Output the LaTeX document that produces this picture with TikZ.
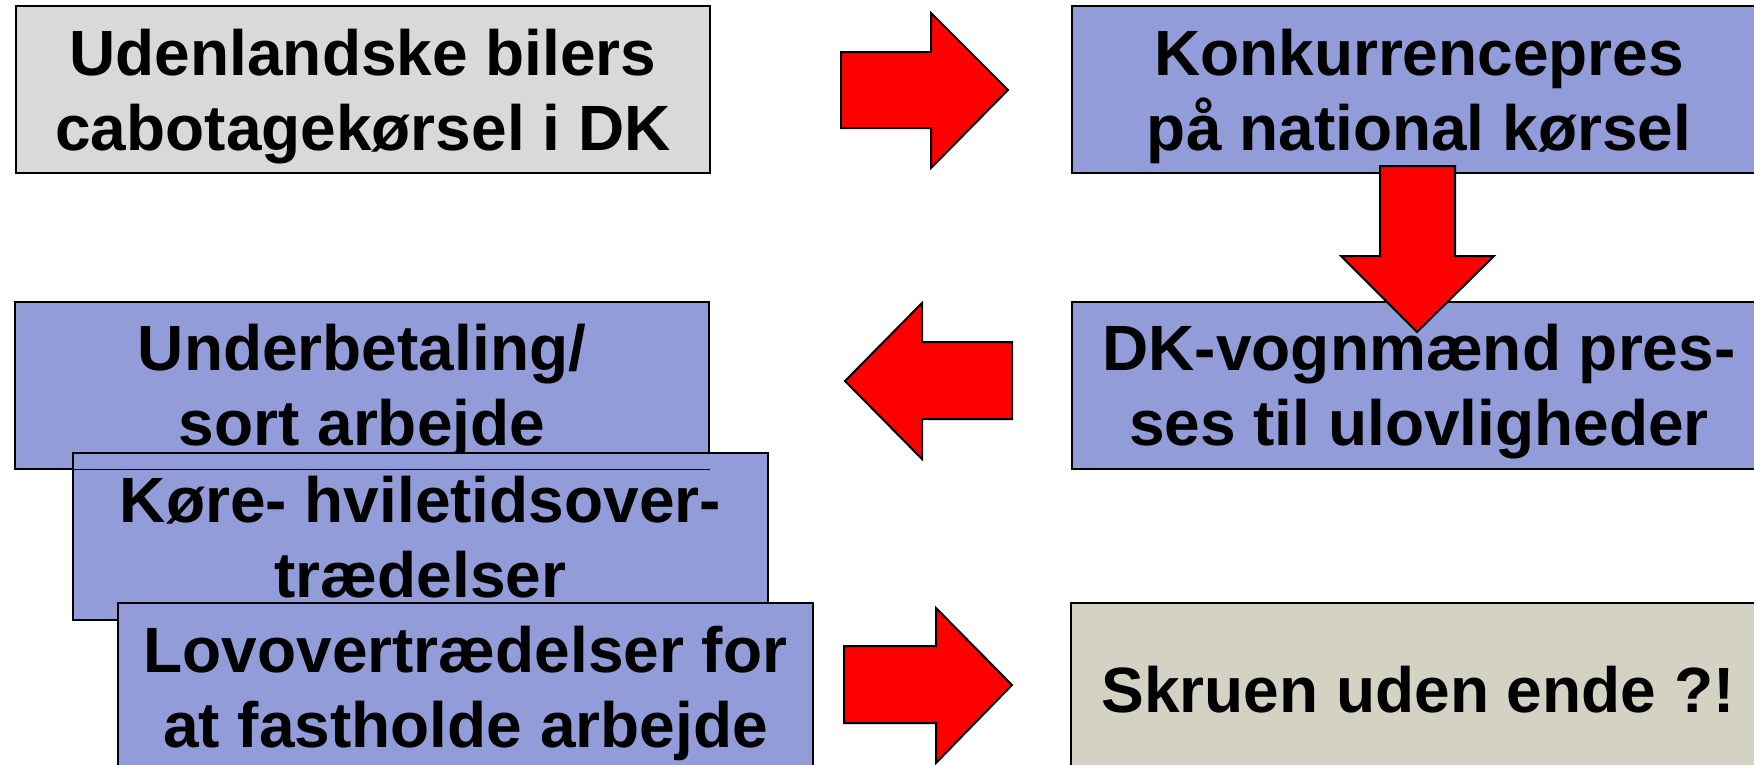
\documentclass[tikz,border=0pt]{standalone}
\usepackage{fontspec}
\setmainfont{Liberation Sans}
\definecolor{boxblue}{RGB}{146,156,216}
\definecolor{boxgray}{RGB}{217,217,217}
\definecolor{boxbeige}{RGB}{212,210,194}
\newcommand\myTS{\rule{0pt}{30bp}}
\newcommand\myBS{\rule[-7bp]{0pt}{7bp}}
\newcommand\mySS{\rule{0pt}{26bp}}
\begin{document}
\begin{tikzpicture}[x=0.5bp,y=-0.5bp,
  box/.style={draw=black,line width=1bp,minimum width=347bp,minimum height=83.5bp,
    inner sep=0pt,align=center,font=\fontsize{32bp}{37.5bp}\selectfont\bfseries},
  blockarrow/.style={fill=red,draw=black,line width=1bp,line join=miter}]
\useasboundingbox (0,0) rectangle (1754,765);
\clip (0,0) rectangle (1754,765);
% top row
\node[box,fill=boxgray] (b1) at (363,89.5) {\myTS Udenlandske bilers\\cabotagekørsel i DK\myBS};
\node[box,fill=boxblue] (b2) at (1419,89.5) {\myTS Konkurrencepres\\på national kørsel\myBS};
\draw[blockarrow] (841,52) -- (931,52) -- (931,13) -- (1008,90) -- (931,168) -- (931,128) -- (841,128) -- cycle;
% second row
\node[box,fill=boxblue] (b3) at (1419,385) {\myTS DK-vognmænd pres-\\ses til ulovligheder\myBS};
\draw[blockarrow] (1380,166) -- (1455,166) -- (1455,256) -- (1494,256) -- (1417,332) -- (1341,256) -- (1380,256) -- cycle;
\node[box,fill=boxblue] (b4) at (362,385) {\myTS Underbetaling/\\sort arbejde\myBS};
\draw[blockarrow] (1012,342) -- (922,342) -- (922,303) -- (845,381) -- (922,459) -- (922,419) -- (1012,419) -- cycle;
% stacked boxes
\node[box,fill=boxblue] (b5) at (420.5,536.5) {\myTS Køre- hviletidsover-\\trædelser\myBS};
\draw[line width=0.5bp] (b5.west |- b4.south) -- (b4.south east);
\node[box,fill=boxblue] (b6) at (465.5,686.5) {\myTS Lovovertrædelser for\\at fastholde arbejde\myBS};
\draw[blockarrow] (844,646) -- (936,646) -- (936,608) -- (1012,685) -- (936,763) -- (936,723) -- (844,723) -- cycle;
\node[box,fill=boxbeige] (b7) at (1418,686.5) {\mySS Skruen uden ende ?!};
\end{tikzpicture}
\end{document}
